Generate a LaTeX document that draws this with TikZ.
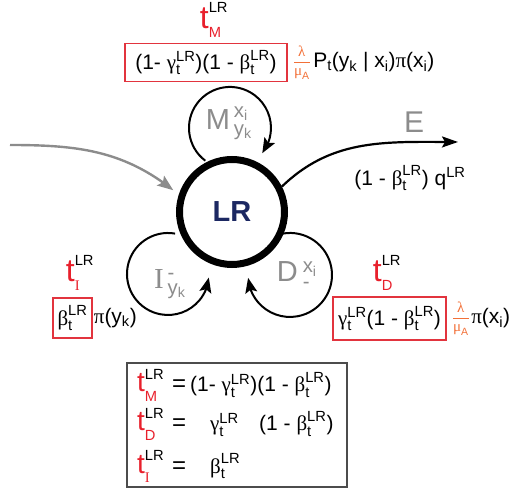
\documentclass[tikz,border=0pt]{standalone}
\usepackage{amsmath}
\usepackage{fontspec}
\setmainfont{Liberation Sans}
\newfontfamily\grk{Liberation Serif}
\usetikzlibrary{positioning, arrows.meta, bending}
\usepackage{xcolor}

\definecolor{tred}{RGB}{232,32,44}
\definecolor{boxred}{RGB}{226,52,62}
\definecolor{lamorange}{RGB}{242,112,56}
\definecolor{labgray}{RGB}{140,140,140}
\definecolor{lrblue}{RGB}{28,40,98}

\newcommand{\gk}[1]{{\grk #1}}
\newcommand{\lo}[1]{\ensuremath{_{\text{#1}}}}
\newcommand{\hi}[1]{\ensuremath{^{\text{#1}}}}
\newcommand{\lohi}[2]{\ensuremath{^{\text{#2}}_{\text{#1}}}}
\newcommand{\sx}[3]{\ensuremath{\text{#1}^{\text{#3}}_{\text{#2}}}}
\newcommand{\trate}[2][32]{\ensuremath{\text{\fontsize{#1}{#1}\selectfont\color{tred}t}^{\text{LR}}_{\text{\raisebox{-4pt}{\color{tred}#2}}}}}
\newcommand{\lam}{\ensuremath{\dfrac{\text{\gk{λ}}}{\text{\gk{μ}}_{\text{A}}}}}

\tikzset{
  state/.style={circle, draw, line width=7pt, minimum size=105pt, inner sep=0pt},
  selfloop/.style={line width=2pt, -{Stealth[length=15pt,width=12pt,inset=3pt]}},
  inflow/.style={line width=2.4pt, labgray, -{Stealth[length=16pt,width=12pt,inset=3pt]}},
  outflow/.style={line width=2.2pt, -{Stealth[length=16pt,width=11pt,inset=3pt]}},
  txt/.style={inner sep=1pt, font=\fontsize{21}{24}\selectfont},
  labtxt/.style={inner sep=0pt, text=labgray, font=\fontsize{29}{29}\selectfont},
  ratebox/.style={draw=boxred, line width=1.4pt, inner sep=2pt},
  lamfrac/.style={inner sep=0pt, text=lamorange, font=\fontsize{15}{15}\selectfont}
}

\begin{document}
\begin{tikzpicture}[x=1pt, y=1pt]
  \useasboundingbox (0,0) rectangle (513,489);

  % self loops (drawn first, the compartment sits on top)
  \coordinate (mstart) at (205.3,328.3);
  \coordinate (istart) at (175.1,255.4);
  \coordinate (dstart) at (282.7,255.4);
  \draw[selfloop] (mstart) arc[start angle=233, end angle=-38, radius=41];
  \draw[selfloop] (istart) arc[start angle=80, end angle=355, radius=41];
  \draw[selfloop] (dstart) arc[start angle=100, end angle=-176, radius=42];

  % central compartment
  \node[state] (lr) at (232,277) {\fontsize{29}{29}\selectfont\bfseries\color{lrblue}LR};

  % inflow and exit
  \coordinate (src) at (10,344);
  \coordinate (sink) at (458,347);
  \draw[inflow, shorten >=7pt] (src) to[out=0, in=140] (lr.162);
  \draw[outflow] (lr.27) to[out=44, in=180] (sink);

  % loop labels
  \node[labtxt] (mlab) at (229,366) {M\kern4pt\lohi{y\lo{k}}{x\lo{i}}};
  \node[labtxt] (ilab) at (170,205) {\gk{I}\kern4pt\lohi{y\lo{k}}{-}};
  \node[labtxt] (dlab) at (297,214) {D\kern5pt\lohi{-}{x\lo{i}}};
  \node[labtxt, font=\fontsize{30}{30}\selectfont] (elab) at (414,367) {E};
  \node[txt] (erate) at (410,311) {(1 - \sx{\gk{β}}{t}{LR}) q\hi{LR}};

  % M transition
  \node[txt] (tm) at (214,469) {\trate{M}};
  \node[txt, ratebox, minimum width=162pt, minimum height=38pt] (boxm) at (206,426.5)
    {(1- \sx{\gk{γ}}{t}{LR})(1 - \sx{\gk{β}}{t}{LR})};
  \node[lamfrac, right=5pt of boxm] (fracm) {\lam};
  \node[txt, right=1pt of fracm] (pm) {P\lo{t}(y\lo{k} | x\lo{i})\gk{π}(x\lo{i})};

  % I transition
  \node[txt] (ti) at (80,216) {\trate{\gk{I}}};
  \node[txt, ratebox, minimum width=39pt, minimum height=40pt] (boxi) at (72.5,171)
    {\sx{\gk{β}}{t}{LR}};
  \node[txt, right=0pt of boxi] (piy) {\gk{π}(y\lo{k})};

  % D transition
  \node[txt] (td) at (387,216) {\trate{D}};
  \node[txt, ratebox, minimum width=113pt, minimum height=43pt] (boxd) at (389.5,170.5)
    {\sx{\gk{γ}}{t}{LR}(1 - \sx{\gk{β}}{t}{LR})};
  \node[lamfrac, right=5pt of boxd] (fracd) {\lam};
  \node[txt, right=0pt of fracd] (pix) {\gk{π}(x\lo{i})};

  % summary table
  \node[draw=black!70, line width=1.2pt, minimum width=220pt, minimum height=124pt,
    inner sep=0pt] (tab) at (237,64) {};
  \node[txt, anchor=base west] (rowm) at (136,97) {\trate[28]{M}};
  \node[txt, anchor=base west, font=\fontsize{24}{24}\selectfont] (eqm) at (171,97) {=};
  \node[txt, anchor=base west] (valm) at (189,97)
    {(1- \sx{\gk{γ}}{t}{LR})(1 - \sx{\gk{β}}{t}{LR})};
  \node[txt, anchor=base west] (rowd) at (136,58) {\trate[28]{D}};
  \node[txt, anchor=base west, font=\fontsize{24}{24}\selectfont] (eqd) at (171,58) {=};
  \node[txt, anchor=base west] (vald) at (209,58) {\sx{\gk{γ}}{t}{LR}};
  \node[txt, anchor=base west] (vald2) at (258,58) {(1 - \sx{\gk{β}}{t}{LR})};
  \node[txt, anchor=base west] (rowi) at (136,16) {\trate[28]{\gk{I}}};
  \node[txt, anchor=base west, font=\fontsize{24}{24}\selectfont] (eqi) at (171,16) {=};
  \node[txt, anchor=base west] (vali) at (209,16) {\sx{\gk{β}}{t}{LR}};
\end{tikzpicture}
\end{document}
